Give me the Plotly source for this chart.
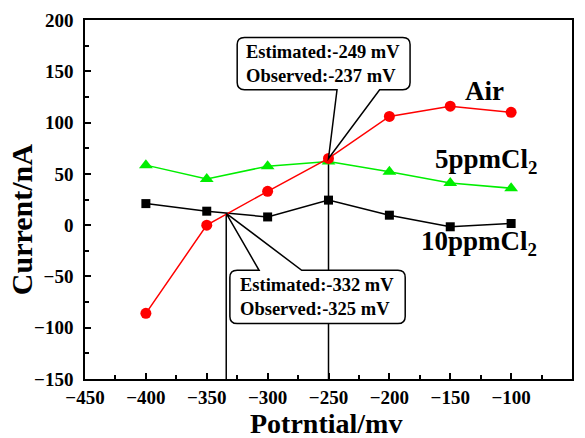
import plotly.graph_objects as go

# ---- data ----
potential = [-400, -350, -300, -250, -200, -150, -100]
air = [-86, 0, 33, 65, 106, 116, 110]
cl5 = [58.5, 45, 57.5, 62, 52, 41, 36]
cl10 = [21, 13.6, 8, 24.4, 9.7, -1.6, 1.6]

cross_low = (-334, 11.5)
cross_high = (-250, 65)

upper_text = ["Estimated:-249 mV", "Observed:-237 mV"]
lower_text = ["Estimated:-332 mV", "Observed:-325 mV"]

FONT = "Liberation Serif"

fig = go.Figure()

fig.add_trace(go.Scatter(x=potential, y=cl10, mode="lines+markers", name="10ppmCl2",
                         line=dict(color="black", width=1.5),
                         marker=dict(symbol="square", size=9, color="black")))
fig.add_trace(go.Scatter(x=potential, y=cl5, mode="lines+markers", name="5ppmCl2",
                         line=dict(color="#00ee00", width=1.5),
                         marker=dict(symbol="triangle-up", size=12, color="#00ee00")))
fig.add_trace(go.Scatter(x=potential, y=air, mode="lines+markers", name="Air",
                         line=dict(color="#ff0000", width=1.5),
                         marker=dict(symbol="circle", size=11, color="#ff0000")))


def callout(x0, x1, y0, y1, tb1, tb2, tip, tail_top, rx=6, ry=7):
    if tail_top:
        p = (f"M {x0+rx},{y1} L {tb1},{y1} L {tip[0]},{tip[1]} L {tb2},{y1} "
             f"L {x1-rx},{y1} Q {x1},{y1} {x1},{y1-ry} L {x1},{y0+ry} Q {x1},{y0} {x1-rx},{y0} "
             f"L {x0+rx},{y0} Q {x0},{y0} {x0},{y0+ry} L {x0},{y1-ry} Q {x0},{y1} {x0+rx},{y1} Z")
    else:
        p = (f"M {x0+rx},{y1} L {x1-rx},{y1} Q {x1},{y1} {x1},{y1-ry} L {x1},{y0+ry} "
             f"Q {x1},{y0} {x1-rx},{y0} L {tb2},{y0} L {tip[0]},{tip[1]} L {tb1},{y0} "
             f"L {x0+rx},{y0} Q {x0},{y0} {x0},{y0+ry} L {x0},{y1-ry} Q {x0},{y1} {x0+rx},{y1} Z")
    return dict(type="path", xref="x", yref="y", path=p, fillcolor="white",
                line=dict(color="black", width=1.5), layer="above")


shapes = [
    dict(type="line", xref="x", yref="y", x0=cross_low[0], x1=cross_low[0], y0=-150, y1=cross_low[1],
         line=dict(color="black", width=1.5), layer="below"),
    dict(type="line", xref="x", yref="y", x0=cross_high[0], x1=cross_high[0], y0=-150, y1=cross_high[1],
         line=dict(color="black", width=1.5), layer="below"),
    callout(-325, -183, 132, 183, -243, -208, cross_high, tail_top=False),
    callout(-331, -187, -96, -44, -307, -272, cross_low, tail_top=True),
]

bold = lambda s: dict(family=FONT, size=s, color="black", weight="bold")

annots = [
    dict(x=-319, y=157, xref="x", yref="y", text="<br>".join(upper_text), showarrow=False,
         xanchor="left", yanchor="middle", align="left", font=bold(18.5)),
    dict(x=-324, y=-70, xref="x", yref="y", text="<br>".join(lower_text), showarrow=False,
         xanchor="left", yanchor="middle", align="left", font=bold(18.5)),
    dict(x=-121.5, y=131, xref="x", yref="y", text="Air", showarrow=False,
         xanchor="center", yanchor="middle", font=bold(27)),
    dict(x=-77, y=63, xref="x", yref="y", text="5ppmCl<sub>2</sub>", showarrow=False,
         xanchor="right", yanchor="middle", font=bold(27)),
    dict(x=-77, y=-17, xref="x", yref="y", text="10ppmCl<sub>2</sub>", showarrow=False,
         xanchor="right", yanchor="middle", font=bold(27)),
    dict(x=-0.129, y=0.443, xref="paper", yref="paper", text="Current/nA", showarrow=False,
         textangle=-90, xanchor="center", yanchor="middle", font=bold(30)),
    dict(x=0.495, y=-0.125, xref="paper", yref="paper", text="Potrntial/mv", showarrow=False,
         xanchor="center", yanchor="middle", font=bold(28)),
]


def axis(rng):
    return dict(range=rng, tickmode="linear", tick0=rng[0], dtick=50, automargin=False,
                tickprefix="<b>", ticksuffix="</b>",
                showline=True, mirror=True, linecolor="black", linewidth=1.5,
                showgrid=False, zeroline=False, ticks="inside", ticklen=6, tickwidth=1.5,
                tickcolor="black", tickfont=bold(19),
                minor=dict(ticks="inside", ticklen=4, tickwidth=1.5, tickcolor="black", dtick=25))


xa = axis([-450, -50])
xa["ticklabelstandoff"] = 0
ya = axis([-150, 200])
ya["ticklabelstandoff"] = 6

fig.update_layout(
    width=585, height=438,
    margin=dict(l=85, r=13, t=20, b=59),
    paper_bgcolor="white", plot_bgcolor="white",
    font=dict(family=FONT, size=18, color="black", weight="bold"),
    showlegend=False,
    shapes=shapes, annotations=annots,
    xaxis=xa, yaxis=ya,
)

fig.write_html("out.html")
